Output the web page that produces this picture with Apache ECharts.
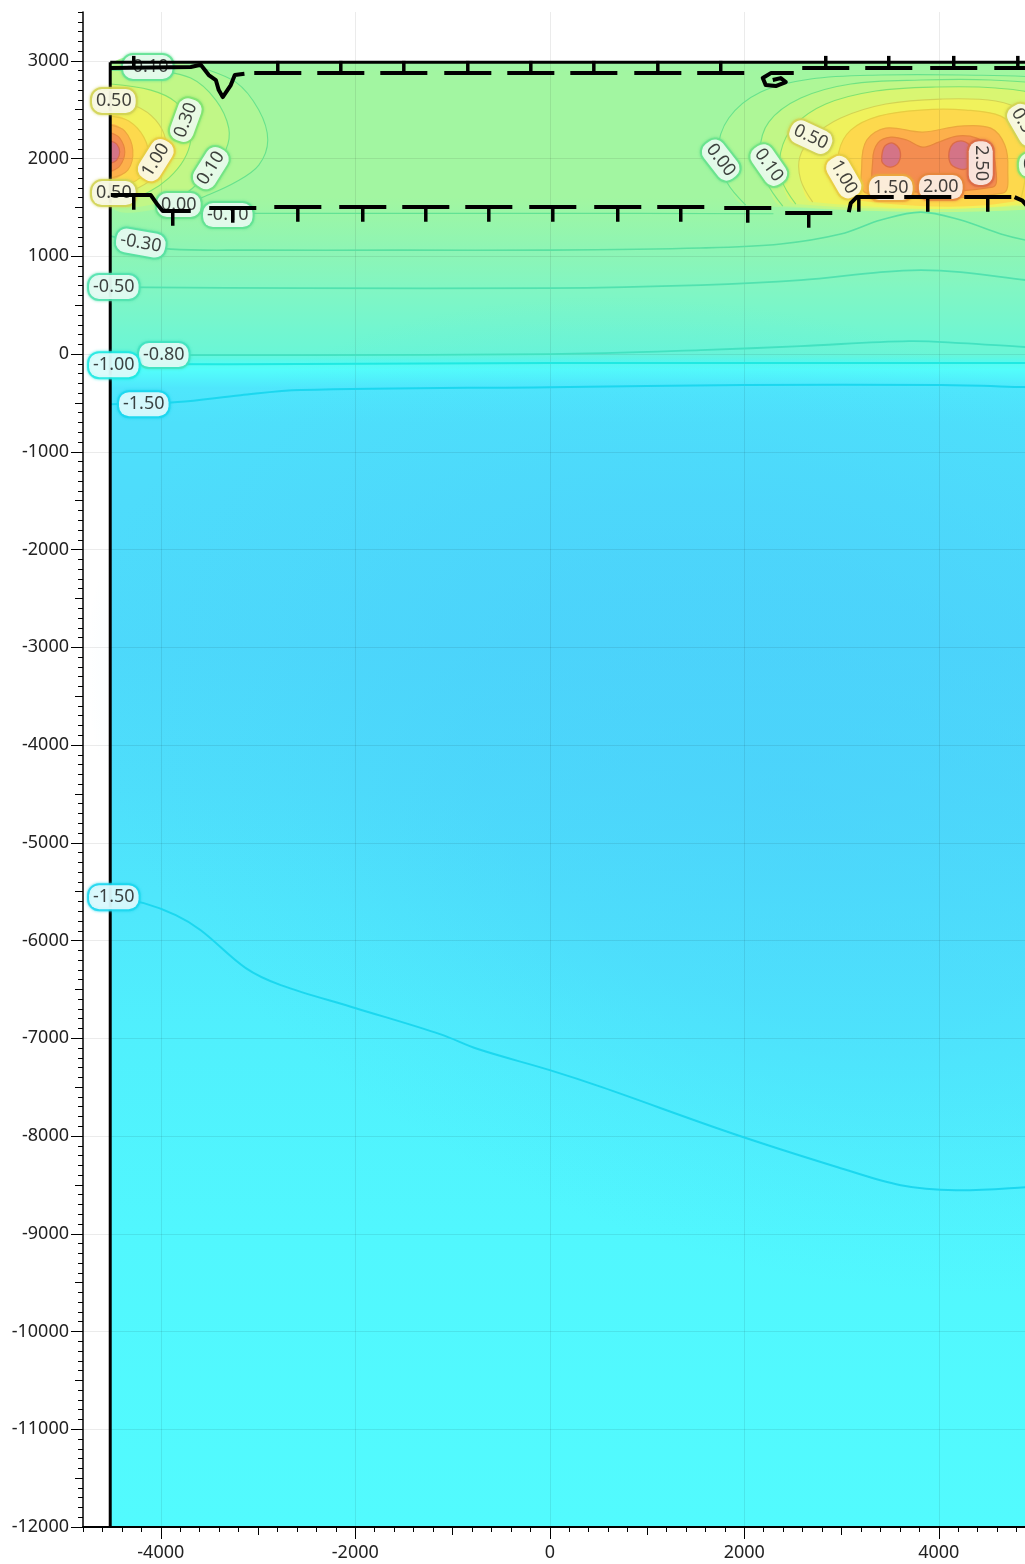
<!DOCTYPE html>
<html>
<head>
<meta charset="utf-8">
<script src="https://cdn.jsdelivr.net/npm/echarts@6/dist/echarts.min.js"></script>
<style>
html, body { margin: 0; padding: 0; background: #fff; }
#chart { width: 1025px; height: 1564px; }
</style>
</head>
<body>
<div id="chart"></div>
<script>
// ---- axis ticks and labels ----
const xLabelValues = [-4000, -2000, 0, 2000, 4000];
const xMidTickValues = [-3000, -1000, 1000, 3000];
const yLabelValues = [3000, 2000, 1000, 0, -1000, -2000, -3000, -4000, -5000, -6000, -7000, -8000, -9000, -10000, -11000, -12000];
const yMidTickValues = [2500, 1500, 500, -500, -1500, -2500, -3500, -4500, -5500, -6500, -7500, -8500, -9500, -10500, -11500];

// ---- colour scale (value -> colour) ----
const colorScaleValues = [-1.78, -1.65, -1.55, -1.45, -1.3, -1.1, -0.95, -0.8, -0.5, -0.3, -0.1, 0.0, 0.1, 0.3, 0.5, 1.0, 1.5, 2.0, 2.5, 2.8];
const colorScaleColors = ['#4acbfa', '#4dd6fb', '#4ee1fb', '#4fedfd', '#52faff', '#53fefb', '#5af8e8', '#6af6d6', '#82f6c2', '#8ff5b3', '#9ef6a4', '#a6f69d', '#b5f791', '#cdf77d', '#e4f567', '#fbee50', '#ffc34a', '#fa9d4b', '#ee7d57', '#cf7290'];

// ---- model domain ----
const frameLeftX = -4520;
const frameTopY = 2985;
const fieldRightX = 5000;
const fieldBottomY = -12000;

// ---- vertical profile of the field ----
const profileDepth = [2985, 2880, 1600, 1500, 1440, 1100, 690, 300, 0, -60, -100, -160, -340, -700, -1500, -3000, -4500, -5600, -7000, -9000, -12000];
const profileValue = [-0.10, -0.05, -0.05, -0.10, -0.14, -0.30, -0.50, -0.68, -0.80, -0.95, -1.02, -1.10, -1.50, -1.56, -1.60, -1.62, -1.57, -1.50, -1.42, -1.34, -1.25];

// ---- deep low below the surface layer ----
const deepLow = { x: 2500, y: -4500, rx: 7500, ry: 4800, tilt: -18, value: -1.78 };

// ---- contour lines across the section ----
const contourM010Top = [[-4514, 2906], [-4200, 2902], [-3900, 2900]];
const contourM010Low = [[-3692, 1440], [-2000, 1440], [0, 1440], [2300, 1436]];
const contourM030 = [[-4514, 1207], [-4206, 1136], [-3897, 1074], [-3075, 1064], [-1532, 1064], [0, 1064], [1553, 1085], [2375, 1126], [2992, 1228], [3404, 1371], [3815, 1453], [4226, 1371], [4638, 1228], [4895, 1166], [5100, 1140]];
const contourM050 = [[-4514, 686], [-2560, 675], [0, 675], [1553, 706], [2581, 757], [3404, 839], [3815, 860], [4226, 839], [4895, 757], [5100, 740]];
const contourM080 = [[-4514, -10], [-2560, -10], [0, 0], [1553, 41], [2581, 82], [3692, 133], [4226, 113], [4895, 72], [5100, 65]];
const contourM100 = [[-4514, -102], [-2560, -102], [0, -92], [4895, -92], [5100, -92]];
const contourM150Upper = [[-4514, -512], [-3826, -491], [-3178, -420], [-2560, -368], [0, -338], [1995, -317], [4021, -317], [4895, -338], [5100, -345]];
const contourM150Lower = [[-4514, -5556], [-4175, -5617], [-3846, -5740], [-3589, -5894], [-3126, -6282], [-2766, -6456], [-1995, -6692], [-1121, -6960], [-740, -7110], [0, -7326], [535, -7500], [1871, -7971], [2961, -8319], [3609, -8503], [4175, -8554], [4895, -8523], [5100, -8500]];

// ---- hot spot at the left edge ----
const leftSpot000 = [[-3640, 2947], [-3229, 2783], [-2992, 2497], [-2900, 2190], [-2992, 1934], [-3229, 1760], [-3538, 1617], [-3794, 1525]];
const leftSpot010 = [[-4103, 2906], [-3692, 2824], [-3434, 2599], [-3301, 2312], [-3332, 2087], [-3486, 1883], [-3671, 1699], [-3846, 1576]];
const leftSpot030 = [[-4514, 2763], [-4103, 2701], [-3846, 2578], [-3722, 2374], [-3692, 2190], [-3764, 1985], [-3918, 1801], [-4124, 1658], [-4309, 1596]];
const leftSpot050 = [[-4514, 2589], [-4257, 2538], [-4052, 2394], [-3949, 2190], [-3969, 1985], [-4082, 1801], [-4288, 1678], [-4514, 1637]];
const leftSpot100 = [[-4514, 2435], [-4329, 2384], [-4175, 2220], [-4124, 2016], [-4185, 1832], [-4350, 1729], [-4514, 1709]];
const leftSpot150 = [[-4514, 2343], [-4370, 2282], [-4288, 2087], [-4339, 1883], [-4514, 1801]];
const leftSpot200 = [[-4514, 2261], [-4422, 2210], [-4370, 2067], [-4422, 1924], [-4514, 1872]];
const leftSpot250 = [[-4514, 2179], [-4453, 2149], [-4422, 2067], [-4453, 1985], [-4514, 1954]];

// ---- hot spot on the right ----
const rightSpot000 = [[2015, 1525], [1820, 1760], [1728, 2067], [1841, 2415], [2170, 2681], [2684, 2814], [3404, 2855], [4226, 2855], [5049, 2824], [5563, 2681], [5820, 2292], [5769, 1832], [5614, 1525]];
const rightSpot010 = [[2396, 1514], [2230, 1760], [2160, 2067], [2252, 2374], [2581, 2619], [3095, 2763], [3815, 2804], [4535, 2804], [5152, 2742], [5512, 2548], [5614, 2190], [5543, 1780], [5409, 1514]];
const rightSpot030 = [[2530, 1535], [2386, 1780], [2375, 2067], [2509, 2333], [2838, 2558], [3352, 2691], [3969, 2732], [4586, 2722], [5049, 2640], [5306, 2415], [5357, 2087], [5275, 1729], [5152, 1535]];
const rightSpot050 = [[2704, 1555], [2581, 1780], [2571, 2016], [2704, 2220], [2992, 2415], [3455, 2558], [4021, 2609], [4586, 2589], [4895, 2466], [5070, 2241], [5100, 1934], [5008, 1555]];
const rightSpot100 = [[3116, 1576], [2992, 1801], [2972, 2067], [3095, 2292], [3383, 2435], [3815, 2497], [4278, 2497], [4638, 2435], [4843, 2241], [4905, 1965], [4843, 1576]];
const rightSpot150 = [[3260, 1647], [3208, 1934], [3260, 2190], [3455, 2312], [3836, 2272], [4226, 2333], [4535, 2312], [4679, 2139], [4710, 1883], [4658, 1647]];
const rightSpot200 = [[3363, 1709], [3321, 1985], [3373, 2159], [3507, 2220], [3671, 2190], [3836, 2118], [4000, 2169], [4185, 2231], [4391, 2210], [4535, 2098], [4586, 1903], [4555, 1709]];
const rightSpot250a = [[3414, 2026], [3445, 2128], [3527, 2159], [3599, 2087], [3589, 1965], [3507, 1913], [3424, 1954]];
const rightSpot250b = [[4103, 2026], [4144, 2149], [4247, 2179], [4340, 2108], [4360, 1985], [4278, 1893], [4144, 1924]];

// ---- contour labels: [x, y, level] and their angle along the line ----
const contourLabels = [
  [-4134, 2937, -0.10], [-4483, 2589, 0.50], [-3743, 2394, 0.30], [-4052, 1985, 1.00],
  [-3486, 1903, 0.10], [-4483, 1647, 0.50], [-3815, 1525, 0.00], [-3311, 1422, -0.10],
  [-4206, 1136, -0.30], [-4483, 686, -0.50], [-3969, -10, -0.80], [-4483, -113, -1.00],
  [-4175, -512, -1.50], [-4483, -5556, -1.50],
  [1758, 1985, 0.00], [2252, 1934, 0.10], [2684, 2220, 0.50], [3023, 1811, 1.00],
  [3507, 1699, 1.50], [4021, 1709, 2.00], [4432, 1954, 2.50], [4884, 2343, 0.50], [5049, 1934, 0.30]
];
const contourLabelAngles = [0, 0, 70, 58, 58, 0, 0, 0, -10, 0, 0, 0, 0, 0, -52, -55, -25, -60, 0, 0, -90, -60, 0];

// ---- fault traces ----
const upperFaultDashes = [[-2797, 2875], [-2149, 2875], [-1501, 2875], [-843, 2875], [-195, 2875], [453, 2875], [1111, 2875], [1758, 2875], [2838, 2926], [3486, 2926], [4154, 2926], [4813, 2926]];
const upperFaultTrace = [[-4514, 2926], [-3692, 2937], [-3589, 2960], [-3507, 2855], [-3434, 2804], [-3404, 2701], [-3363, 2630], [-3280, 2752], [-3239, 2855], [-3140, 2868]];
const upperFaultHook = [[2509, 2875], [2273, 2875], [2190, 2824], [2221, 2752], [2324, 2742], [2427, 2783], [2375, 2824], [2293, 2804]];
const upperFaultTicks = [[-4278, 2926]];
const lowerFaultDashes = [[-3260, 1494], [-2591, 1504], [-1923, 1504], [-1275, 1504], [-627, 1504], [31, 1504], [699, 1504], [1347, 1504], [2036, 1494], [2663, 1443], [3887, 1606], [4504, 1606]];
const lowerFaultTraceWest = [[-4514, 1627], [-4103, 1627], [-4031, 1525], [-3980, 1463], [-3692, 1463]];
const lowerFaultTraceEast = [[3075, 1453], [3095, 1545], [3157, 1606], [3537, 1606]];
const lowerFaultTraceEdge = [[4780, 1606], [4860, 1570], [4930, 1490]];
const lowerFaultTicks = [[-4278, 1627], [-3877, 1463], [3178, 1606]];

// ---------------------------------------------------------------
const FONT = 'Noto Sans';
const DASH_HALF = 242;     // half length of a fault dash (axis units)
const TICK_UP = 125;
const TICK_DOWN = 150;

function hexToRgb(h) {
  const n = parseInt(h.slice(1), 16);
  return [(n >> 16) & 255, (n >> 8) & 255, n & 255];
}
const scaleRgb = colorScaleColors.map(hexToRgb);
function rgbOf(v) {
  const vs = colorScaleValues, n = vs.length;
  if (v <= vs[0]) return scaleRgb[0].slice();
  if (v >= vs[n - 1]) return scaleRgb[n - 1].slice();
  let i = 0;
  while (v > vs[i + 1]) i++;
  const t = (v - vs[i]) / (vs[i + 1] - vs[i]);
  return [0, 1, 2].map(k => scaleRgb[i][k] + (scaleRgb[i + 1][k] - scaleRgb[i][k]) * t);
}
function colorOf(v, a) {
  const c = rgbOf(v).map(Math.round);
  return 'rgba(' + c[0] + ',' + c[1] + ',' + c[2] + ',' + (a === undefined ? 1 : a) + ')';
}
function lineColorOf(v) {
  const c = rgbOf(v);
  let d;
  if (v > 0.4) d = [0.92, 0.86, 0.82];
  else if (v <= -0.9) d = [0.35, 0.93, 0.95];
  else d = [0.62, 0.92, 0.9];
  return 'rgb(' + Math.round(c[0] * d[0]) + ',' + Math.round(c[1] * d[1]) + ',' + Math.round(c[2] * d[2]) + ')';
}

const contourLines = [
  { level: -0.10, points: contourM010Top, width: 1.2 },
  { level: -0.10, points: contourM010Low, width: 1.2 },
  { level: -0.30, points: contourM030, width: 1.6 },
  { level: -0.50, points: contourM050, width: 1.8 },
  { level: -0.80, points: contourM080, width: 1.8 },
  { level: -1.00, points: contourM100, width: 2 },
  { level: -1.50, points: contourM150Upper, width: 2 },
  { level: -1.50, points: contourM150Lower, width: 2 },
  { level: 0.00, points: leftSpot000, width: 1.1 },
  { level: 0.10, points: leftSpot010, width: 1.1 },
  { level: 0.30, points: leftSpot030, width: 1.1 },
  { level: 0.50, points: leftSpot050, width: 1.1 },
  { level: 1.00, points: leftSpot100, width: 1.1 },
  { level: 1.50, points: leftSpot150, width: 1.1 },
  { level: 2.00, points: leftSpot200, width: 1.1 },
  { level: 2.50, points: leftSpot250, width: 1.1 },
  { level: 0.00, points: rightSpot000, width: 1.1 },
  { level: 0.10, points: rightSpot010, width: 1.1 },
  { level: 0.30, points: rightSpot030, width: 1.1 },
  { level: 0.50, points: rightSpot050, width: 1.1 },
  { level: 1.00, points: rightSpot100, width: 1.2 },
  { level: 1.50, points: rightSpot150, width: 1.2, closed: true },
  { level: 2.00, points: rightSpot200, width: 1.2, closed: true },
  { level: 2.50, points: rightSpot250a, width: 1.4, closed: true },
  { level: 2.50, points: rightSpot250b, width: 1.4, closed: true }
];

// filled areas inside each hot spot contour (value between this level and the next)
const spotFills = [
  { points: leftSpot000, fill: 0.05, atFrame: true },
  { points: leftSpot010, fill: 0.2, atFrame: true },
  { points: leftSpot030, fill: 0.4, atFrame: true },
  { points: leftSpot050, fill: 0.75 },
  { points: leftSpot100, fill: 1.25 },
  { points: leftSpot150, fill: 1.75 },
  { points: leftSpot200, fill: 2.25 },
  { points: leftSpot250, fill: 2.75 },
  { points: rightSpot000, fill: 0.05 },
  { points: rightSpot010, fill: 0.2 },
  { points: rightSpot030, fill: 0.4 },
  { points: rightSpot050, fill: 0.75 },
  { points: rightSpot100, fill: 1.25 },
  { points: rightSpot150, fill: 1.75 },
  { points: rightSpot200, fill: 2.25 },
  { points: rightSpot250a, fill: 2.75 },
  { points: rightSpot250b, fill: 2.75 }
];

const chart = echarts.init(document.getElementById('chart'), null, { renderer: 'canvas' });

function fieldRect(params, api) {
  const i = params.dataIndex;
  const p0 = api.coord([frameLeftX, profileDepth[i]]);
  const p1 = api.coord([fieldRightX, profileDepth[i + 1]]);
  return {
    type: 'rect',
    shape: { x: p0[0], y: p0[1] - 0.5, width: p1[0] - p0[0], height: p1[1] - p0[1] + 1 },
    style: {
      fill: {
        type: 'linear', x: 0, y: 0, x2: 0, y2: 1,
        colorStops: [
          { offset: 0, color: colorOf(profileValue[i]) },
          { offset: 1, color: colorOf(profileValue[i + 1]) }
        ]
      }
    }
  };
}

function deepLowShape(params, api) {
  const c = api.coord([deepLow.x, deepLow.y]);
  const e = api.coord([deepLow.x + deepLow.rx, deepLow.y - deepLow.ry]);
  const rx = e[0] - c[0], ry = e[1] - c[1];
  return {
    type: 'circle',
    x: c[0], y: c[1],
    scaleX: rx / ry,
    rotation: deepLow.tilt * Math.PI / 180,
    shape: { cx: 0, cy: 0, r: ry },
    style: {
      fill: {
        type: 'radial', x: 0.5, y: 0.5, r: 0.5,
        colorStops: [
          { offset: 0, color: colorOf(deepLow.value, 0.55) },
          { offset: 0.45, color: colorOf(deepLow.value, 0.4) },
          { offset: 0.75, color: colorOf(deepLow.value, 0.15) },
          { offset: 1, color: colorOf(deepLow.value, 0) }
        ]
      }
    }
  };
}

function spotFillShape(params, api) {
  const f = spotFills[params.dataIndex];
  let pts = f.points.slice();
  if (f.atFrame) {
    pts = pts.concat([[frameLeftX, pts[pts.length - 1][1]], [frameLeftX, pts[0][1]]]);
  }
  const px = pts.map(p => api.coord(p));
  const left = api.coord([frameLeftX, 0])[0];
  return {
    type: 'polygon',
    shape: { points: px, smooth: 0.35, smoothConstraint: [[left, -1e5], [1e5, 1e5]] },
    style: { fill: colorOf(f.fill) }
  };
}

function contourShape(params, api) {
  const c = contourLines[params.dataIndex];
  const px = c.points.map(p => api.coord(p));
  return {
    type: c.closed ? 'polygon' : 'polyline',
    shape: { points: px, smooth: 0.35 },
    style: { fill: null, stroke: lineColorOf(c.level), lineWidth: c.width }
  };
}

function faultDash(dir) {
  return function (params, api) {
    const d = api.value(0), y = api.value(1);
    const a = api.coord([d - DASH_HALF, y]);
    const b = api.coord([d + DASH_HALF, y]);
    const m = api.coord([d, y]);
    const t = api.coord([d, y + (dir > 0 ? TICK_UP : -TICK_DOWN)]);
    return {
      type: 'group',
      children: [
        { type: 'line', shape: { x1: a[0], y1: a[1], x2: b[0], y2: b[1] }, style: { stroke: '#000', lineWidth: 4 } },
        { type: 'line', shape: { x1: m[0], y1: m[1], x2: t[0], y2: t[1] }, style: { stroke: '#000', lineWidth: 3.5 } }
      ]
    };
  };
}
function faultTick(dir) {
  return function (params, api) {
    const m = api.coord([api.value(0), api.value(1)]);
    const t = api.coord([api.value(0), api.value(1) + (dir > 0 ? TICK_UP : -TICK_DOWN)]);
    return { type: 'line', shape: { x1: m[0], y1: m[1], x2: t[0], y2: t[1] }, style: { stroke: '#000', lineWidth: 3.5 } };
  };
}
const faultTraces = [upperFaultTrace, upperFaultHook, lowerFaultTraceWest, lowerFaultTraceEast, lowerFaultTraceEdge];
function faultTraceShape(params, api) {
  const px = faultTraces[params.dataIndex].map(p => api.coord(p));
  return { type: 'polyline', shape: { points: px }, style: { fill: null, stroke: '#000', lineWidth: 4, lineJoin: 'round' } };
}

const axisText = { fontSize: 18, color: '#222', fontFamily: FONT, formatter: v => String(v) };
function xAxisLayer(extra) {
  return Object.assign({
    type: 'value', min: -4800, max: 5000, interval: 200, position: 'bottom',
    axisLine: { show: false, onZero: false },
    axisLabel: { show: false },
    splitLine: { show: false }
  }, extra);
}
function yAxisLayer(extra) {
  return Object.assign({
    type: 'value', min: -12000, max: 3500, interval: 100, position: 'left',
    axisLine: { show: false, onZero: false },
    axisLabel: { show: false },
    splitLine: { show: false }
  }, extra);
}

const option = {
  animation: false,
  backgroundColor: '#fff',
  textStyle: { fontFamily: FONT },
  grid: { left: 83, right: -11, top: 12, bottom: 37, containLabel: false, outerBoundsMode: 'none' },
  xAxis: [
    xAxisLayer({
      z: 10,
      axisLine: { show: true, onZero: false, lineStyle: { color: '#000', width: 2 } },
      axisTick: { show: true, length: 5, lineStyle: { color: '#000', width: 1 } },
      axisLabel: Object.assign({ show: true, customValues: xLabelValues, margin: 17 }, axisText)
    }),
    xAxisLayer({
      z: 0.5,
      axisTick: { show: true, customValues: xLabelValues, length: 12, lineStyle: { color: '#000', width: 1 } },
      splitLine: { show: true, lineStyle: { color: 'rgba(0,0,0,0.08)', width: 1 } }
    }),
    xAxisLayer({
      z: 10,
      axisTick: { show: true, customValues: xMidTickValues, length: 8, lineStyle: { color: '#000', width: 1 } }
    })
  ],
  yAxis: [
    yAxisLayer({
      z: 10,
      axisLine: { show: true, onZero: false, lineStyle: { color: '#000', width: 1.5 } },
      axisTick: { show: true, length: 5, lineStyle: { color: '#000', width: 1 } },
      axisLabel: Object.assign({ show: true, customValues: yLabelValues, margin: 14 }, axisText)
    }),
    yAxisLayer({
      z: 0.5,
      axisTick: { show: true, customValues: yLabelValues, length: 12, lineStyle: { color: '#000', width: 1 } },
      splitLine: { show: true, lineStyle: { color: 'rgba(0,0,0,0.08)', width: 1 } }
    }),
    yAxisLayer({
      z: 10,
      axisTick: { show: true, customValues: yMidTickValues, length: 8, lineStyle: { color: '#000', width: 1 } }
    })
  ],
  series: [
    {
      name: 'field', type: 'custom', z: 0, silent: true, clip: true,
      data: profileDepth.slice(0, -1).map(d => [frameLeftX, d]),
      renderItem: fieldRect
    },
    {
      name: 'deep low', type: 'custom', z: 0, silent: true, clip: true,
      data: [[deepLow.x, deepLow.y]],
      renderItem: deepLowShape
    },
    {
      name: 'hot spots', type: 'custom', z: 0, silent: true, clip: true,
      data: spotFills.map(f => f.points[0]),
      renderItem: spotFillShape
    },
    {
      name: 'contours', type: 'custom', z: 2, silent: true, clip: true,
      data: contourLines.map(c => c.points[0]),
      renderItem: contourShape
    },
    {
      name: 'west boundary', type: 'line', z: 3, silent: true, symbol: 'none',
      data: [[frameLeftX, fieldBottomY], [frameLeftX, frameTopY]],
      lineStyle: { color: '#000', width: 3 }
    },
    {
      name: 'contour labels', type: 'scatter', z: 4, silent: true, clip: false,
      symbolSize: 1, itemStyle: { color: 'transparent' },
      data: contourLabels.map((l, i) => ({
        value: l,
        label: { rotate: contourLabelAngles[i], borderColor: lineColorOf(l[2]), shadowColor: lineColorOf(l[2]) }
      })),
      label: {
        show: true, position: 'inside',
        formatter: p => p.value[2].toFixed(2),
        backgroundColor: '#fff', borderWidth: 2, borderRadius: 10,
        shadowBlur: 3,
        padding: [2, 4, 1, 4], fontSize: 18, lineHeight: 21, color: '#111', fontFamily: FONT
      }
    },
    {
      name: 'top boundary', type: 'line', z: 5, silent: true, symbol: 'none',
      data: [[frameLeftX, frameTopY], [fieldRightX, frameTopY]],
      lineStyle: { color: '#000', width: 3 }
    },
    {
      name: 'upper fault', type: 'custom', z: 6, silent: true, clip: false,
      data: upperFaultDashes, renderItem: faultDash(1)
    },
    {
      name: 'upper fault ticks', type: 'custom', z: 6, silent: true, clip: false,
      data: upperFaultTicks, renderItem: faultTick(1)
    },
    {
      name: 'lower fault', type: 'custom', z: 6, silent: true, clip: false,
      data: lowerFaultDashes, renderItem: faultDash(-1)
    },
    {
      name: 'lower fault ticks', type: 'custom', z: 6, silent: true, clip: false,
      data: lowerFaultTicks, renderItem: faultTick(-1)
    },
    {
      name: 'fault traces', type: 'custom', z: 6, silent: true, clip: false,
      data: faultTraces.map(t => t[0]), renderItem: faultTraceShape
    }
  ]
};
chart.setOption(option);
</script>
</body>
</html>
